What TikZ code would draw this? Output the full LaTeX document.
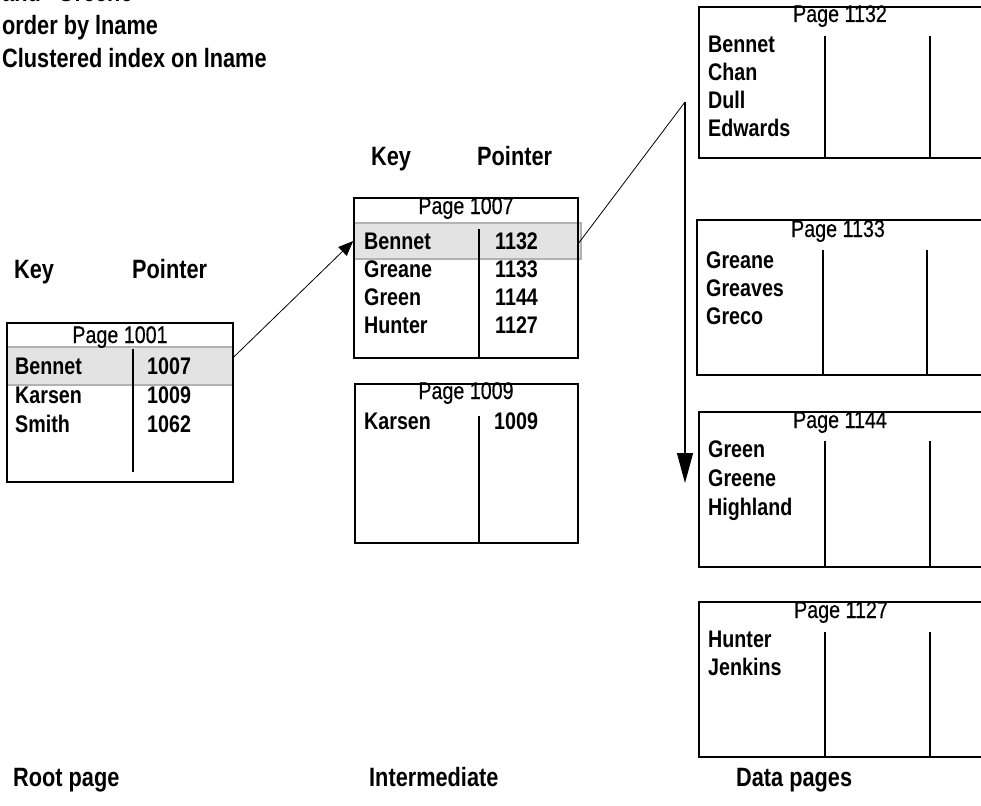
\documentclass[tikz,border=0pt]{standalone}
\usepackage{fontspec}
\setmainfont{Liberation Sans}[FakeStretch=0.82]
\newfontfamily\titlefont{Liberation Sans}[FakeStretch=0.82,FakeBold=0.4]
\usetikzlibrary{arrows.meta,calc}
\begin{document}
\begin{tikzpicture}[x=1pt,y=-1pt,
  lbl/.style={anchor=base west,inner sep=0pt,font=\fontsize{26.5}{30}\selectfont\bfseries},
  txt/.style={anchor=base west,inner sep=0pt,font=\fontsize{24}{28}\selectfont\bfseries},
  ttl/.style={anchor=base,inner sep=0pt,font=\titlefont\fontsize{24}{28}\selectfont},
  pagebox/.style={draw=black,line width=1.6pt},
  divider/.style={draw=black,line width=1.6pt},
  band/.style={draw=gray!60,fill=black!11,line width=1.5pt,inner sep=0pt},
  link/.style={draw=black,line width=0.8pt}]
\useasboundingbox (0,0) rectangle (981,805);
\begin{scope}
\clip (0,0) rectangle (981,805);
% header text
\node[lbl] (h1) at (2,2) {and “Greene”};
\node[lbl] (h2) at (2,35) {order by lname};
\node[lbl] (h3) at (2,68) {Clustered index on lname};

% root page
\node[lbl] (rkey) at (14,278) {Key};
\node[lbl] (rptr) at (132,278) {Pointer};
\node[band,minimum width=226pt,minimum height=38pt] (rband) at (120,366) {};
\draw[pagebox] (7,323) rectangle (233,482);
\draw[divider] (133,349) -- (133,472);
\node[ttl] (t1001) at (120,343) {Page 1001};
\node[txt] (r1) at (15,374) {Bennet};
\node[txt] (r1p) at (147,374) {1007};
\node[txt] (r2) at (15,403) {Karsen};
\node[txt] (r2p) at (147,403) {1009};
\node[txt] (r3) at (15,432) {Smith};
\node[txt] (r3p) at (147,432) {1062};

% intermediate
\node[lbl] (ikey) at (371,165) {Key};
\node[lbl] (iptr) at (477,165) {Pointer};
\node[band,minimum width=227pt,minimum height=36pt] (iband) at (467.5,241) {};
\draw[pagebox] (354,198) rectangle (578,358);
\draw[divider] (479,229) -- (479,358);
\node[ttl] (t1007) at (466,214) {Page 1007};
\node[txt] (i1) at (364,249) {Bennet};
\node[txt] (i1p) at (495,249) {1132};
\node[txt] (i2) at (364,277) {Greane};
\node[txt] (i2p) at (495,277) {1133};
\node[txt] (i3) at (364,305) {Green};
\node[txt] (i3p) at (495,305) {1144};
\node[txt] (i4) at (364,333) {Hunter};
\node[txt] (i4p) at (495,333) {1127};

\draw[pagebox] (355,384) rectangle (578,543);
\draw[divider] (479,416) -- (479,543);
\node[ttl] (t1009) at (466,399) {Page 1009};
\node[txt] (k1) at (364,429) {Karsen};
\node[txt] (k1p) at (494,429) {1009};

% data pages
\draw[pagebox] (699,7) rectangle (995,158);
\draw[divider] (825,36) -- (825,158);
\draw[divider] (930,36) -- (930,158);
\node[ttl] (t1132) at (840,22) {Page 1132};
\node[txt] (d1) at (708,53) {Bennet};
\node[txt] (d2) at (708,81) {Chan};
\node[txt] (d3) at (708,109) {Dull};
\node[txt] (d4) at (708,137) {Edwards};

\draw[pagebox] (697,220) rectangle (995,375);
\draw[divider] (823,250) -- (823,375);
\draw[divider] (927,250) -- (927,375);
\node[ttl] (t1133) at (838,237) {Page 1133};
\node[txt] (e1) at (706,268) {Greane};
\node[txt] (e2) at (706,296) {Greaves};
\node[txt] (e3) at (706,324) {Greco};

\draw[pagebox] (699,412) rectangle (995,567);
\draw[divider] (825,441) -- (825,567);
\draw[divider] (930,441) -- (930,567);
\node[ttl] (t1144) at (840,428) {Page 1144};
\node[txt] (f1) at (708,457) {Green};
\node[txt] (f2) at (708,486) {Greene};
\node[txt] (f3) at (708,515) {Highland};

\draw[pagebox] (699,602) rectangle (995,757);
\draw[divider] (825,632) -- (825,757);
\draw[divider] (930,632) -- (930,757);
\node[ttl] (t1127) at (841,618) {Page 1127};
\node[txt] (g1) at (708,647) {Hunter};
\node[txt] (g2) at (708,675) {Jenkins};

% bottom labels
\node[lbl] (bl1) at (13,786) {Root page};
\node[lbl] (bl2) at (369,786) {Intermediate};
\node[lbl] (bl3) at (736,786) {Data pages};

% connectors
\coordinate (bend) at (685,102);
\coordinate (tip) at (685,483);
\draw[link,-{Triangle[length=15pt,width=12pt]}] ($(rband.east)+(0,-9)$) -- (iband.west);
\draw[link] ($(iband.east)+(-3,2)$) -- (bend);
\draw[line width=1.4pt,-{Triangle[length=30pt,width=16pt]}] (bend) -- (tip);
\end{scope}
\end{tikzpicture}
\end{document}
